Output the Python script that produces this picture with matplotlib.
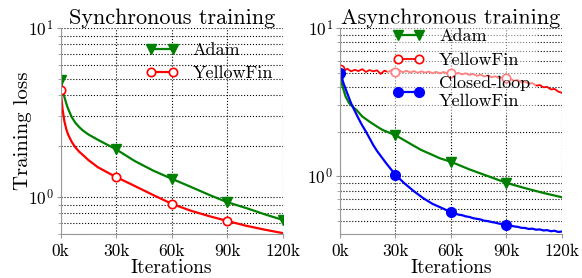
import matplotlib
matplotlib.use("Agg")
import matplotlib.pyplot as plt
from matplotlib.ticker import NullFormatter, LogLocator

plt.rcParams['font.family'] = 'cmr10'
plt.rcParams['mathtext.fontset'] = 'cm'
plt.rcParams['axes.unicode_minus'] = False
plt.rcParams['axes.formatter.use_mathtext'] = True

# iterations in thousands
xticks = [0, 30, 60, 90, 120]
xtick_labels = ['0k', '30k', '60k', '90k', '120k']

# synchronous training
sync_iters = [0, 0.5, 1, 2, 3, 4, 6, 8, 10, 12, 15, 20, 25, 30, 40, 50, 60, 70, 80, 90, 100, 110, 120]
sync_adam = [4.9, 4.6, 4.32, 3.9, 3.58, 3.32, 2.96, 2.74, 2.59, 2.47, 2.34, 2.18, 2.04, 1.91,
             1.63, 1.43, 1.28, 1.15, 1.03, 0.93, 0.86, 0.79, 0.73]
sync_yf = [4.29, 3.75, 3.3, 2.8, 2.52, 2.34, 2.11, 1.96, 1.85, 1.77, 1.65, 1.5, 1.4, 1.31,
           1.16, 1.025, 0.91, 0.83, 0.77, 0.72, 0.675, 0.64, 0.61]

# asynchronous training
async_iters_adam = [0, 1, 2, 3, 5, 7, 9, 12, 16, 20, 23, 30, 40, 44, 50, 54, 60, 70, 80, 90, 100, 110, 120]
async_adam = [4.6, 4.2, 3.8, 3.45, 3.1, 2.93, 2.79, 2.53, 2.33, 2.16, 2.05, 1.89, 1.6, 1.5,
              1.39, 1.32, 1.25, 1.11, 1.0, 0.9, 0.83, 0.77, 0.72]

async_iters_yf = list(range(0, 122, 2))
async_yf = [5.25, 5.15, 5.3, 5.1, 5.22, 5.12, 5.28, 5.05, 5.2, 5.1, 5.18, 4.9, 5.15, 5.05, 5.2,
            5.08, 5.18, 5.02, 5.15, 5.0, 5.12, 4.98, 5.1, 5.0, 5.08, 4.95, 5.06, 4.94, 5.05, 4.93,
            5.0, 4.9, 4.98, 4.86, 4.95, 4.82, 4.9, 4.75, 4.85, 4.7, 4.78, 4.65, 4.72, 4.58, 4.66,
            4.57, 4.55, 4.4, 4.45, 4.3, 4.35, 4.2, 4.25, 4.08, 4.12, 3.98, 4.0, 3.85, 3.88, 3.72,
            3.65]

async_iters_cl = [0, 1, 2, 4, 6, 8, 10, 12, 14, 16, 18, 20, 22, 25, 30, 35, 40, 45, 50, 55,
                  60, 62, 64, 66, 68, 70, 72, 74, 76, 78, 80, 82, 84, 86, 88, 90, 92, 94, 96,
                  98, 100, 102, 104, 106, 108, 110, 112, 114, 116, 118, 120]
async_cl = [5.0, 4.6, 4.2, 3.6, 3.1, 2.75, 2.45, 2.2, 2.0, 1.8, 1.62, 1.48, 1.37, 1.22, 1.02,
            0.89, 0.79, 0.71, 0.65, 0.61,
            0.57, 0.56, 0.55, 0.545, 0.535, 0.53, 0.52, 0.515, 0.51, 0.50, 0.497, 0.49, 0.485,
            0.478, 0.475, 0.467, 0.465, 0.458, 0.455, 0.448, 0.447, 0.44, 0.442, 0.435, 0.437,
            0.43, 0.432, 0.425, 0.428, 0.42, 0.423]


def marks(iters, at):
    return [iters.index(v) for v in at]


def style_axes(ax, ymin):
    ax.set_yscale('log')
    ax.set_xlim(0, 120)
    ax.set_ylim(ymin, 10)
    ax.set_xticks(xticks)
    ax.set_xticklabels(xtick_labels)
    ax.yaxis.set_major_locator(LogLocator(base=10, numticks=5))
    ax.yaxis.set_minor_locator(LogLocator(base=10, subs=range(2, 10), numticks=20))
    ax.yaxis.set_minor_formatter(NullFormatter())
    ax.xaxis.grid(True, which='major', linestyle=':', color='black', linewidth=0.8)
    ax.yaxis.grid(True, which='both', linestyle=':', color='black', linewidth=0.8)
    for s in ['top', 'right']:
        ax.spines[s].set_visible(False)
    for s in ['left', 'bottom']:
        ax.spines[s].set_color('#999999')
    ax.tick_params(which='major', direction='out', length=3, color='#999999', labelsize=12.5)
    ax.tick_params(axis='x', which='major', pad=4)
    ax.tick_params(axis='y', which='major', pad=2)
    ax.tick_params(which='minor', direction='out', length=2, color='#999999')
    ax.set_xlabel('Iterations', fontsize=14, labelpad=0)


fig = plt.figure(figsize=(5.82, 2.78), dpi=100)
ax1 = fig.add_axes([0.1043, 0.1572, 0.3814, 0.7421])
ax2 = fig.add_axes([0.5842, 0.1572, 0.3814, 0.7421])

# left panel
ax1.plot(sync_iters, sync_adam, color='green', lw=1.6, marker='v', ms=7,
         markevery=marks(sync_iters, [0, 30, 60, 90, 120]), label='Adam')
ax1.plot(sync_iters, sync_yf, color='red', lw=1.6, marker='o', ms=6, mfc='white', mew=1.2,
         markevery=marks(sync_iters, [0, 30, 60, 90]), label='YellowFin')
style_axes(ax1, 0.6)
ax1.set_title('Synchronous training', fontsize=16, pad=1)
ax1.set_ylabel('Training loss', fontsize=15, labelpad=-3)
ax1.legend(loc='upper left', bbox_to_anchor=(0.31, 1.01), numpoints=2, fontsize=13,
           frameon=False, labelspacing=0.43, handlelength=1.8, handletextpad=0.8)

# right panel
ax2.plot(async_iters_adam, async_adam, color='green', lw=1.6, marker='v', ms=7,
         markevery=marks(async_iters_adam, [0, 30, 60, 90]), label='Adam')
ax2.plot(async_iters_yf, async_yf, color='red', lw=1.3, marker='o', ms=6, mfc='white', mew=1.2,
         markevery=marks(async_iters_yf, [0, 30, 60, 90]), label='YellowFin')
ax2.plot(async_iters_cl, async_cl, color='blue', lw=1.6, marker='o', ms=7,
         markevery=marks(async_iters_cl, [0, 30, 60, 90]), label='Closed-loop\nYellowFin')
style_axes(ax2, 0.405)
ax2.set_title('Asynchronous training', fontsize=16, pad=1)
ax2.legend(loc='upper left', bbox_to_anchor=(0.17, 1.066), numpoints=2, fontsize=13,
           framealpha=0.5, edgecolor='none', fancybox=False, labelspacing=0.43,
           handlelength=1.8, handletextpad=0.8, borderpad=0.3)

fig.savefig('out.png', dpi=100)
